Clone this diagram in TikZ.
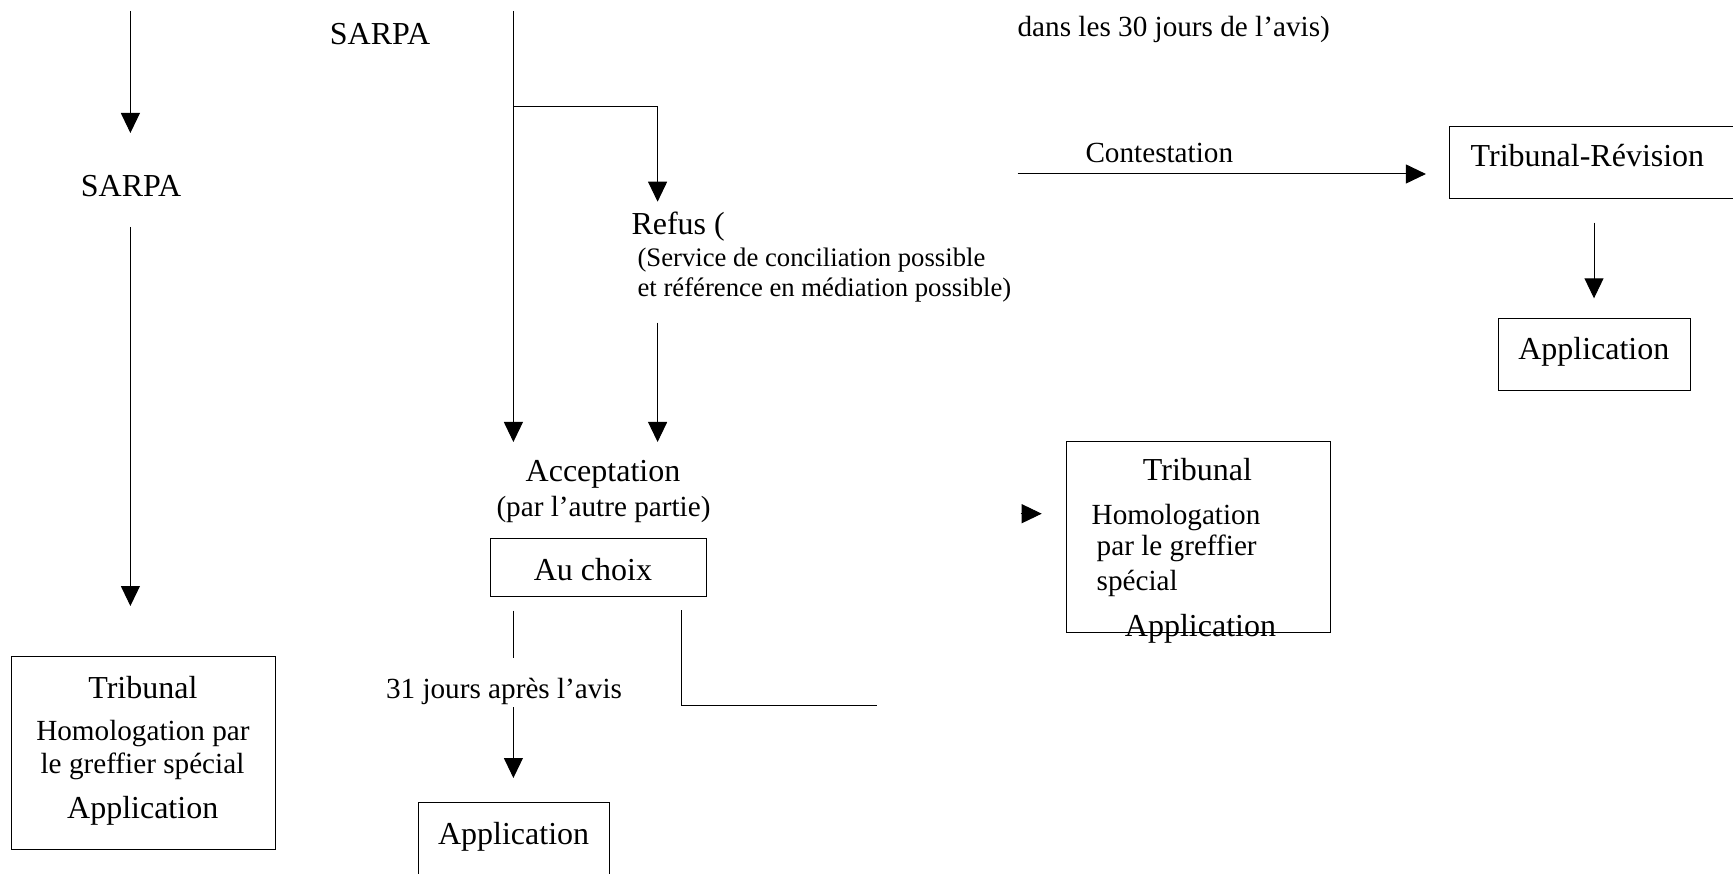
\documentclass[tikz,border=0pt]{standalone}
\usepackage{fontspec}
\setmainfont{Liberation Serif}
\usetikzlibrary{arrows.meta}

\begin{document}
\begin{tikzpicture}[x=1pt, y=-1pt, line width=1pt,
        every node/.style={inner sep=0pt, outer sep=0pt},
        big/.style={font=\fontsize{32}{38}\selectfont, anchor=base},
        mid/.style={font=\fontsize{29.2}{35}\selectfont, anchor=base},
        small/.style={font=\fontsize{26.7}{32}\selectfont, anchor=base},
        box/.style={draw, rectangle},
        arr/.style={-{Triangle[length=20pt, width=19pt]}}]

        \useasboundingbox (0,0) rectangle (1733,874);

        % boxes
        \node[box, minimum width=264pt, minimum height=192.3pt] (tribA) at (143,752.85) {};
        \node[box, minimum width=216pt, minimum height=57.2pt] (choix) at (598.2,567.4) {};
        \node[box, minimum width=191.1pt, minimum height=97.4pt] (applB) at (513.85,851.3) {};
        \node[box, minimum width=310.3pt, minimum height=72.3pt] (revis) at (1604.85,162.85) {};
        \node[box, minimum width=191.7pt, minimum height=71.7pt] (applR) at (1594.15,354.85) {};
        \node[box, minimum width=264pt, minimum height=191pt] (tribB) at (1198,537.2) {};

        % texts
        \node[big] (sarpa1) at (380,44.3) {SARPA};
        \node[big] (sarpa2) at (131,197) {SARPA};
        \node[mid] (delai) at (1173.7,37) {dans les 30 jours de l’avis)};
        \node[mid] (contest) at (1159.3,163) {Contestation};
        \node[big, anchor=base west] (revisT) at (1470.7,166.7) {Tribunal-Révision};
        \node[big, anchor=base west] (refus) at (631.5,235) {Refus (};
        \node[small, anchor=base west] (concil) at (637.6,266.7) {(Service de conciliation possible};
        \node[small, anchor=base west] (mediat) at (637.6,296.7) {et référence en médiation possible)};
        \node[big] (applRT) at (1593.8,360) {Application};
        \node[big] (accept) at (603,481.3) {Acceptation};
        \node[mid] (autre) at (603.5,516) {(par l’autre partie)};
        \node[big] (choixT) at (592.9,580) {Au choix};
        \node[big] (tribBT) at (1197.5,480) {Tribunal};
        \node[mid, anchor=base west] (homolB) at (1091.7,524.3) {Homologation};
        \node[mid, anchor=base west] (greffB) at (1096.7,555.7) {par le greffier};
        \node[mid, anchor=base west] (specB) at (1096.7,590) {spécial};
        \node[big] (applBT) at (1200.5,636.7) {Application};
        \node[mid] (jours) at (504,698.5) {31 jours après l’avis};
        \node[big] (tribAT) at (142.9,698) {Tribunal};
        \node[mid] (homolA) at (142.9,740) {Homologation par};
        \node[mid] (greffA) at (142.5,773) {le greffier spécial};
        \node[big] (applAT) at (142.7,818) {Application};
        \node[big] (applBBT) at (513.6,844) {Application};

        % free ends of the connectors
        \coordinate (l0) at (130.4,11);
        \coordinate (l1) at (130.4,133);
        \coordinate (l2) at (130.4,227);
        \coordinate (l3) at (130.4,606);
        \coordinate (m0) at (513.4,11);
        \coordinate (m1) at (513.4,106.7);
        \coordinate (m2) at (513.4,442);
        \coordinate (r0) at (657.6,106.7);
        \coordinate (r1) at (657.6,201.7);
        \coordinate (r2) at (657.6,322.7);
        \coordinate (r3) at (657.6,442);
        \coordinate (c0) at (513.4,610.6);
        \coordinate (c1) at (513.4,658.2);
        \coordinate (c2) at (513.4,707.3);
        \coordinate (c3) at (513.4,778);
        \coordinate (k0) at (681.6,610);
        \coordinate (k1) at (681.6,705.7);
        \coordinate (k2) at (876.7,705.7);
        \coordinate (h0) at (1020.7,513.7);
        \coordinate (h1) at (1041.7,513.7);
        \coordinate (t0) at (1017.6,174);
        \coordinate (t1) at (1425.9,174);
        \coordinate (v0) at (1594,222.7);
        \coordinate (v1) at (1594,298.3);

        % connectors
        \draw[arr] (l0) -- (l1);
        \draw[arr] (l2) -- (l3);
        \draw[arr] (m0) -- (m2);
        \draw[arr] (m1) -- (r0) -- (r1);
        \draw[arr] (r2) -- (r3);
        \draw (c0) -- (c1);
        \draw[arr] (c2) -- (c3);
        \draw (k0) -- (k1) -- (k2);
        \draw[arr] (h0) -- (h1);
        \draw[arr] (t0) -- (t1);
        \draw[arr] (v0) -- (v1);
    \end{tikzpicture}
\end{document}
